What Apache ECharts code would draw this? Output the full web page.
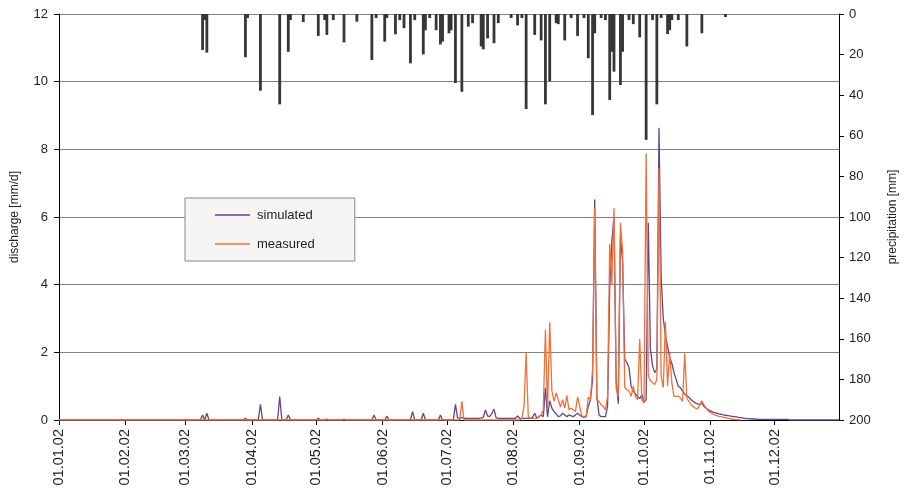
<!DOCTYPE html>
<html><head><meta charset="utf-8">
<script src="https://cdn.jsdelivr.net/npm/echarts@6/dist/echarts.min.js"></script>
<style>html,body{margin:0;padding:0;background:#fff;}#c{width:907px;height:498px;}</style>
</head><body><div id="c"></div>
<script>
// month tick labels shown on the x axis
const monthTickLabels = ['01.01.02','01.02.02','01.03.02','01.04.02','01.05.02','01.06.02',
  '01.07.02','01.08.02','01.09.02','01.10.02','01.11.02','01.12.02'];

// daily precipitation [mm] as [dayOfYearIndex, value]; days not listed read as 0
const precipitation = [[67,17.7],[68,3],[69,19],[87,21.3],[88,2],[94,37.8],[103,44.5],[107,18.6],[108,3],
  [114,4],[121,10.8],[124,3],[125,10.3],[128,3],[133,14],[139,3.8],[146,22.7],[148,2],[152,13.6],[153,2],
  [157,10],[159,3],[161,7],[164,24.3],[166,3],[170,19.9],[171,8],[173,2],[176,8],[178,15],[179,13.6],
  [182,9.5],[183,8],[185,34],[188,38.3],[191,6.2],[193,4.5],[197,16],[198,17.4],[200,12],[203,14.4],
  [205,4.5],[211,2],[214,5.6],[216,2],[218,46.8],[222,10.3],[225,13],[227,44.5],[229,33],[232,4.5],
  [233,5],[236,13],[239,2],[242,10.8],[245,2],[247,21.8],[249,49.8],[250,9.5],[253,2],[255,3],
  [257,42.4],[258,18.6],[259,28.4],[262,35],[263,18.6],[266,3],[268,5],[271,11.5],[274,62],[277,3],
  [279,44.5],[281,2],[284,9.9],[285,8],[286,3],[289,3],[293,16],[300,9.5],[311,1.5]];

// simulated discharge [mm/d]; days not listed read as 0
const simulated = [[67,0.15],[69,0.2],[87,0.05],[94,0.46],[103,0.69],[107,0.15],[121,0.05],[125,0.03],
  [133,0.03],[147,0.15],[153,0.12],[165,0.25],[170,0.2],[178,0.15],[185,0.46],[186,0.06],[187,0.05],
  [188,0.08],[189,0.05],[190,0.05],[191,0.05],[192,0.05],[193,0.05],[194,0.05],[195,0.05],[196,0.05],
  [197,0.06],[198,0.08],[199,0.3],[200,0.12],[201,0.1],[202,0.2],[203,0.32],[204,0.06],[205,0.05],
  [206,0.05],[207,0.05],[208,0.05],[209,0.05],[210,0.05],[211,0.05],[212,0.05],[213,0.05],[214,0.12],
  [215,0.05],[216,0.05],[217,0.05],[218,0.05],[219,0.05],[220,0.05],[221,0.08],[222,0.2],[223,0.05],
  [224,0.1],[225,0.15],[226,0.1],[227,0.95],[228,0.1],[229,0.57],[230,0.35],[231,0.25],[232,0.18],
  [233,0.1],[234,0.12],[235,0.2],[236,0.15],[237,0.1],[238,0.15],[239,0.12],[240,0.1],[241,0.15],
  [242,0.2],[243,0.15],[244,0.1],[245,0.08],[246,0.1],[247,0.4],[248,0.6],[249,1.2],[250,6.52],
  [251,0.7],[252,0.15],[253,0.1],[254,0.1],[255,0.1],[256,0.4],[257,3.9],[258,5.3],[259,6.0],
  [260,1.2],[261,0.48],[262,5.4],[263,4.7],[264,1.8],[265,1.7],[266,1.55],[267,1.0],[268,0.85],
  [269,0.77],[270,0.7],[271,0.63],[272,0.75],[273,0.52],[274,0.6],[275,5.83],[276,2.1],[277,1.6],
  [278,1.4],[279,1.5],[280,8.64],[281,4.2],[282,3.0],[283,2.5],[284,2.17],[285,1.85],[286,1.67],
  [287,1.4],[288,1.2],[289,1.0],[290,0.95],[291,0.85],[292,0.77],[293,0.72],[294,0.67],[295,0.6],
  [296,0.55],[297,0.5],[298,0.48],[299,0.45],[300,0.5],[301,0.4],[302,0.35],[303,0.3],[304,0.27],
  [305,0.24],[306,0.22],[307,0.2],[308,0.18],[309,0.17],[310,0.15],[311,0.14],[312,0.13],[313,0.12],
  [314,0.11],[315,0.1],[316,0.09],[317,0.08],[318,0.07],[319,0.06],[320,0.05],[321,0.04],[322,0.04],
  [323,0.03],[324,0.03],[325,0.03],[326,0.02],[327,0.02],[328,0.02],[329,0.02],[330,0.02],[331,0.02],
  [332,0.02],[333,0.02],[334,0.02],[335,0.02],[336,0.02],[337,0.02],[338,0.02],[339,0.02],[340,0.02]];

// measured discharge [mm/d]; days not listed read as 0, no data after measuredLastDay
const measuredLastDay = 318;
const measured = [[188,0.55],[216,0.05],[217,0.4],[218,1.98],[219,0.08],[220,0.05],[221,0.05],[222,0.05],
  [223,0.05],[224,0.1],[225,0.15],[226,0.3],[227,2.67],[228,0.3],[229,2.89],[230,0.87],[231,0.55],
  [232,0.8],[233,0.6],[234,0.38],[235,0.6],[236,0.35],[237,0.72],[238,0.3],[239,0.35],[240,0.3],
  [241,0.25],[242,0.68],[243,0.4],[244,0.12],[245,0.1],[246,0.12],[247,0.68],[248,0.6],[249,1.5],
  [250,6.26],[251,0.6],[252,0.55],[253,0.45],[254,0.4],[255,0.3],[256,0.7],[257,5.2],[258,4.0],
  [259,6.26],[260,0.93],[261,0.7],[262,5.83],[263,5.0],[264,0.96],[265,0.9],[266,0.85],[267,0.7],
  [268,1.0],[269,0.7],[270,0.6],[271,2.39],[272,0.6],[273,0.5],[274,7.88],[275,1.3],[276,1.16],
  [277,1.1],[278,1.05],[279,1.2],[280,7.44],[281,1.3],[282,0.96],[283,2.9],[284,1.0],[285,1.99],
  [286,1.1],[287,0.7],[288,0.7],[289,0.7],[290,0.65],[291,0.55],[292,1.97],[293,0.65],[294,0.55],
  [295,0.45],[296,0.4],[297,0.35],[298,0.33],[299,0.45],[300,0.57],[301,0.45],[302,0.35],[303,0.27],
  [304,0.22],[305,0.18],[306,0.15],[307,0.13],[308,0.11],[309,0.1],[310,0.08],[311,0.07],[312,0.05],
  [313,0.04],[314,0.03],[315,0.02],[316,0.01],[317,0.01],[318,0]];

// category axis: every day of 2002
const days = [];
const pad = n => (n < 10 ? '0' : '') + n;
for (let i = 0; i < 365; i++) {
  const d = new Date(Date.UTC(2002, 0, 1) + i * 86400000);
  days.push(pad(d.getUTCDate()) + '.' + pad(d.getUTCMonth() + 1) + '.02');
}
function toDaily(pairs, lastDay) {
  const arr = days.map((_, i) => (i <= lastDay ? 0 : null));
  pairs.forEach(p => { arr[p[0]] = p[1]; });
  return arr;
}
const isMonthStart = (i, v) => monthTickLabels.indexOf(v) >= 0;

const font = 'Liberation Sans, Arial, sans-serif';
const chart = echarts.init(document.getElementById('c'));
chart.setOption({
  animation: false,
  textStyle: { fontFamily: font },
  grid: { left: 59, right: 68, top: 14, bottom: 78 },
  legend: {
    data: [{ name: 'simulated', icon: 'rect' }, { name: 'measured', icon: 'rect' }],
    orient: 'vertical', left: 185, top: 198,
    padding: [10, 40, 10, 30], itemGap: 15, itemWidth: 35, itemHeight: 1.6,
    backgroundColor: '#f7f5f4', borderColor: '#8a8a8a', borderWidth: 1, borderRadius: 0,
    textStyle: { fontSize: 13, color: '#222', fontFamily: font, lineHeight: 14, padding: [0, 0, 0, 2] }
  },
  xAxis: {
    type: 'category', data: days, boundaryGap: false,
    axisLine: { lineStyle: { color: '#000', width: 1 } },
    axisTick: { interval: isMonthStart, length: 5, lineStyle: { color: '#000' } },
    axisLabel: { interval: isMonthStart, rotate: 90, fontSize: 14.5, color: '#222', margin: 9, fontFamily: font },
    splitLine: { show: false }
  },
  yAxis: [{
    type: 'value', min: 0, max: 12, interval: 2,
    name: 'discharge [mm/d]', nameLocation: 'middle', nameGap: 38, nameRotate: 90,
    nameTextStyle: { fontSize: 12, color: '#222', fontFamily: font },
    axisLine: { show: true, lineStyle: { color: '#000' } },
    axisTick: { show: true, length: 5, lineStyle: { color: '#000' } },
    axisLabel: { fontSize: 13, color: '#222', margin: 11, fontFamily: font },
    splitLine: { show: true, lineStyle: { color: '#808080', width: 1 } }
  }, {
    type: 'value', min: 0, max: 200, interval: 20, inverse: true, position: 'right',
    name: 'precipitation [mm]', nameLocation: 'middle', nameGap: 48, nameRotate: 90,
    nameTextStyle: { fontSize: 12, color: '#222', fontFamily: font },
    axisLine: { show: true, lineStyle: { color: '#000' } },
    axisTick: { show: true, length: 5, lineStyle: { color: '#000' } },
    axisLabel: { fontSize: 13, color: '#222', margin: 10, fontFamily: font },
    splitLine: { show: false }
  }],
  series: [{
    name: 'precipitation', type: 'bar', yAxisIndex: 1, data: toDaily(precipitation, 364),
    barWidth: 2.8, itemStyle: { color: '#363636' }, silent: true
  }, {
    name: 'simulated', type: 'line', data: toDaily(simulated, 364), symbol: 'none', showSymbol: false,
    lineStyle: { color: '#65448f', width: 1.3 }, itemStyle: { color: '#65448f' }
  }, {
    name: 'measured', type: 'line', data: toDaily(measured, measuredLastDay), symbol: 'none', showSymbol: false,
    lineStyle: { color: '#f0703a', width: 1.3 }, itemStyle: { color: '#f0703a' }
  }]
});
</script></body></html>
